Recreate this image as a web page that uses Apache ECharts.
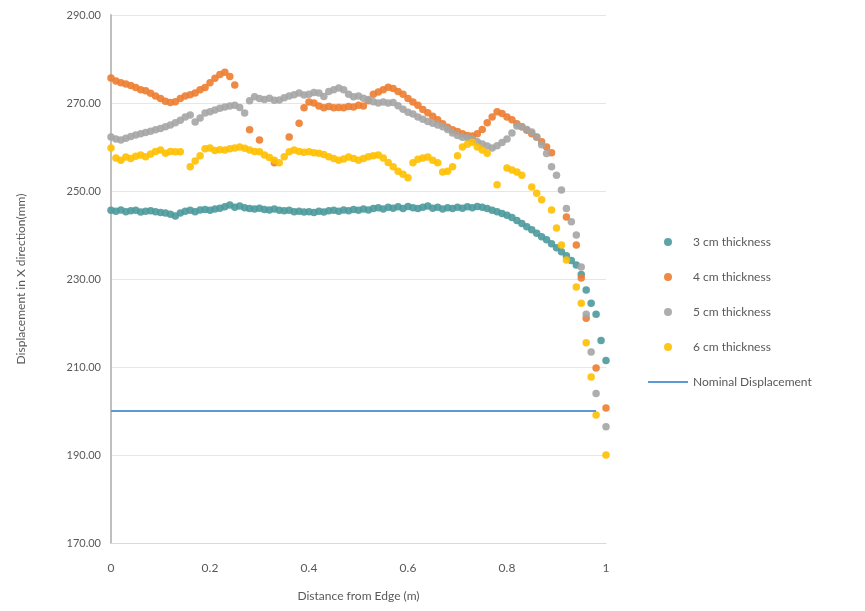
<!DOCTYPE html>
<html>
<head>
<meta charset="utf-8">
<script src="https://cdn.jsdelivr.net/npm/echarts@6/dist/echarts.min.js"></script>
<style>
  html, body { margin: 0; padding: 0; background: #fff; }
  #chart { width: 865px; height: 611px; }
</style>
</head>
<body>
<div id="chart"></div>
<script>
// distance from edge (m)
var xs = [0, 0.01, 0.02, 0.03, 0.04, 0.05, 0.06, 0.07, 0.08, 0.09,
  0.1, 0.11, 0.12, 0.13, 0.14, 0.15, 0.16, 0.17, 0.18, 0.19,
  0.2, 0.21, 0.22, 0.23, 0.24, 0.25, 0.26, 0.27, 0.28, 0.29,
  0.3, 0.31, 0.32, 0.33, 0.34, 0.35, 0.36, 0.37, 0.38, 0.39,
  0.4, 0.41, 0.42, 0.43, 0.44, 0.45, 0.46, 0.47, 0.48, 0.49,
  0.5, 0.51, 0.52, 0.53, 0.54, 0.55, 0.56, 0.57, 0.58, 0.59,
  0.6, 0.61, 0.62, 0.63, 0.64, 0.65, 0.66, 0.67, 0.68, 0.69,
  0.7, 0.71, 0.72, 0.73, 0.74, 0.75, 0.76, 0.77, 0.78, 0.79,
  0.8, 0.81, 0.82, 0.83, 0.84, 0.85, 0.86, 0.87, 0.88, 0.89,
  0.9, 0.91, 0.92, 0.93, 0.94, 0.95, 0.96, 0.97, 0.98, 0.99, 1];

var t3 = [245.6, 245.4, 245.7, 245.3, 245.5, 245.6, 245.2, 245.4, 245.5, 245.3,
  245.1, 245.0, 244.7, 244.3, 245.0, 245.4, 245.6, 245.3, 245.7, 245.8,
  245.6, 245.9, 246.1, 246.4, 246.8, 246.3, 246.6, 246.2, 246.0, 245.9,
  246.1, 245.8, 245.7, 245.9, 245.6, 245.5, 245.6, 245.3, 245.4, 245.2,
  245.3, 245.1, 245.4, 245.2, 245.5, 245.6, 245.4, 245.7, 245.5, 245.8,
  245.6, 245.9, 245.7, 246.0, 246.2, 245.9, 246.3, 246.1, 246.4, 246.0,
  246.5, 246.2, 246.0, 246.3, 246.6, 246.1, 246.3, 245.9, 246.2, 246.0,
  246.3, 246.1, 246.4, 246.2, 246.5, 246.3, 246.0, 245.6, 245.3, 244.9,
  244.5, 244.0, 243.3, 242.6, 241.9, 241.2, 240.4, 239.6, 238.9, 238.0,
  237.1, 236.2, 235.3, 234.2, 233.2, 231.0, 227.5, 224.5, 222.0, 216.0, 211.5];

var t4 = [275.7, 275.0, 274.6, 274.3, 274.0, 273.5, 273.0, 272.8, 272.2, 271.6,
  271.0, 270.4, 270.1, 270.3, 271.0, 271.6, 271.9, 272.3, 273.0, 273.5,
  274.6, 275.6, 276.5, 277.0, 276.0, 274.1, null, null, 263.9, null,
  261.6, null, null, 256.4, null, null, 262.3, null, 265.4, 268.9,
  270.2, 270.0, 269.3, 268.9, 269.2, 268.9, 269.0, 268.9, 269.2, 269.1,
  269.5, 269.3, 270.5, 272.0, 272.5, 273.0, 273.6, 273.3, 272.6, 272.0,
  271.0, 270.2, 269.5, 268.5, 267.8, 267.0, 266.2, 265.3, 264.5, 263.9,
  263.5, 263.0, 262.6, 262.5, 263.0, 264.0, 265.5, 266.8, 268.0, 267.6,
  266.8, 266.2, 265.3, 264.6, 263.8, 263.0, 262.3, 261.2, 260.0, 258.7,
  null, null, 244.1, null, 237.7, 230.2, 221.1, null, 209.8, null, 200.7];

var t5 = [262.3, 261.8, 261.6, 262.0, 262.4, 262.7, 263.0, 263.3, 263.6, 263.9,
  264.2, 264.6, 265.0, 265.5, 266.1, 266.8, 267.3, 265.7, 266.6, 267.7,
  268.0, 268.4, 268.8, 269.1, 269.3, 269.5, 269.0, 267.7, 270.5, 271.4,
  271.0, 270.8, 271.1, 270.6, 270.7, 271.2, 271.6, 271.9, 272.3, 271.8,
  272.0, 272.4, 272.3, 271.5, 272.6, 273.0, 273.4, 273.0, 272.0, 271.4,
  271.6, 271.1, 270.8, 270.3, 270.0, 270.2, 270.0, 270.1, 269.4, 268.6,
  267.9, 267.5, 266.8, 266.3, 265.8, 265.4, 265.0, 264.6, 264.0, 263.2,
  262.6, 262.2, 262.1, 261.8, 261.2, 260.7, 260.2, 259.8, 260.3, 261.0,
  261.8, 263.2, 264.8, 264.6, 264.0, 263.4, 262.2, 260.5, 258.5, 255.5,
  253.6, 250.2, 246.0, 243.0, 240.0, 232.7, 222.0, 213.4, 204.0, null, 196.4];

var t6 = [259.8, 257.5, 257.0, 257.7, 257.4, 257.9, 258.2, 257.8, 258.4, 259.0,
  259.3, 258.6, 259.0, 258.9, 258.9, null, 255.5, 256.8, 258.0, 259.6,
  259.8, 259.2, 259.4, 259.3, 259.6, 259.8, 260.0, 259.7, 259.3, 259.0,
  258.9, 258.2, 257.6, 257.0, 256.4, 257.8, 258.9, 259.3, 259.0, 258.8,
  258.9, 258.7, 258.6, 258.3, 257.8, 257.4, 257.0, 257.3, 257.7, 257.4,
  257.0, 257.4, 257.8, 258.0, 258.2, 257.5, 256.5, 255.5, 254.5, 253.8,
  253.0, 256.4, 257.2, 257.5, 257.7, 257.0, 256.4, 254.3, 254.5, 255.5,
  258.0, 260.0, 260.6, 261.1, 260.0, 259.3, 258.6, null, 251.4, null,
  255.2, 254.8, 254.3, 253.6, null, 250.9, 249.5, 248.0, null, 245.7,
  241.6, 237.7, 234.3, null, 228.2, 224.5, 215.5, 207.7, 199.1, null, 190.0];

var nominalX = [0, 0.98];
var nominalY = [200, 200];

var names = ['3 cm thickness', '4 cm thickness', '5 cm thickness', '6 cm thickness', 'Nominal Displacement'];
var colors = ['#4C9A9C', '#ED7D31', '#A5A5A5', '#FFC000', '#5B9BD5'];
var yTicks = [170, 290, 20];

function pairs(xv, yv) {
  var out = [];
  for (var i = 0; i < xv.length; i++) {
    if (yv[i] != null) out.push([xv[i], yv[i]]);
  }
  return out;
}

var chart = echarts.init(document.getElementById('chart'));
var font = 'Lato, "Open Sans", sans-serif';

function dots(name, vals, color) {
  return {
    name: name,
    type: 'scatter',
    symbolSize: 7.5,
    itemStyle: { color: color, opacity: 0.9 },
    data: pairs(xs, vals)
  };
}

chart.setOption({
  animation: false,
  textStyle: { fontFamily: font },
  grid: { left: 111, right: 259, top: 15, bottom: 68 },
  legend: {
    orient: 'vertical',
    left: 643,
    top: 231,
    itemWidth: 40,
    itemHeight: 8,
    itemGap: 23,
    textStyle: { color: '#595959', fontSize: 12, fontFamily: font },
    data: names.slice(0, 4).concat([{ name: names[4], icon: 'path://M0,0h42v2h-42z' }])
  },
  xAxis: {
    type: 'value',
    min: 0,
    max: 1,
    interval: 0.2,
    name: 'Distance from Edge (m)',
    nameLocation: 'middle',
    nameGap: 47,
    nameTextStyle: { color: '#595959', fontSize: 12 },
    axisLine: { lineStyle: { color: '#d9d9d9' } },
    axisTick: { show: false },
    splitLine: { show: false },
    axisLabel: { color: '#595959', fontSize: 12, margin: 19 }
  },
  yAxis: {
    type: 'value',
    min: yTicks[0],
    max: yTicks[1],
    interval: yTicks[2],
    name: 'Displacement in X direction(mm)',
    nameLocation: 'middle',
    nameGap: 84,
    nameTextStyle: { color: '#595959', fontSize: 12 },
    axisLine: { show: true, lineStyle: { color: '#bfbfbf', width: 2 } },
    axisTick: { show: false },
    splitLine: { lineStyle: { color: '#e6e6e6' } },
    axisLabel: {
      color: '#595959', fontSize: 11, margin: 10,
      formatter: function (v) { return v.toFixed(2); }
    }
  },
  series: [
    dots(names[0], t3, colors[0]),
    dots(names[1], t4, colors[1]),
    dots(names[2], t5, colors[2]),
    dots(names[3], t6, colors[3]),
    {
      name: names[4],
      type: 'line',
      symbol: 'none',
      lineStyle: { color: colors[4], width: 2 },
      itemStyle: { color: colors[4] },
      data: pairs(nominalX, nominalY)
    }
  ]
});
</script>
</body>
</html>
